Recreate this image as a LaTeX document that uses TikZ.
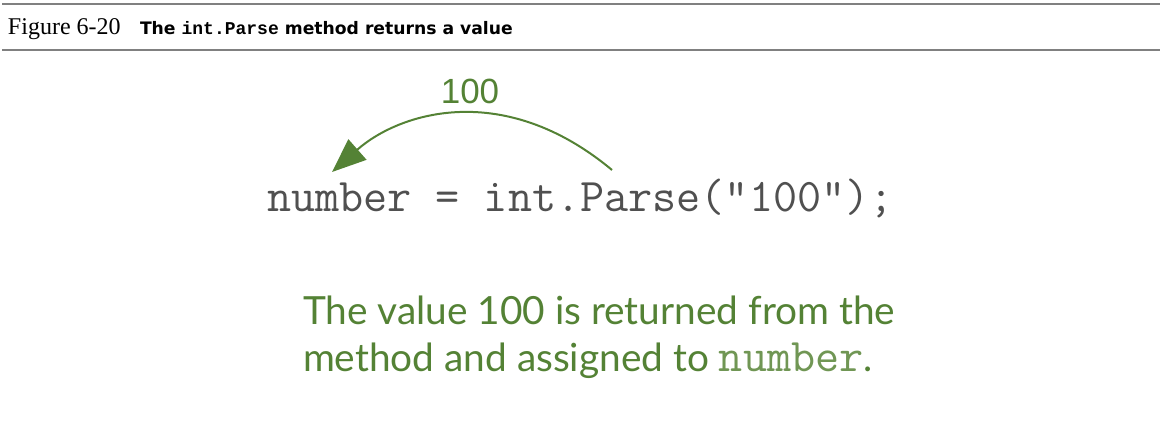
\documentclass[tikz,border=0pt]{standalone}
\usepackage{fontspec}
\usetikzlibrary{positioning,arrows.meta}
\setmainfont{Lato}
\newfontfamily\titleMono{Liberation Mono}
\newfontfamily\captionSerif{Liberation Serif}
\newfontfamily\captionSans{DejaVu Sans}
\newfontfamily\labelFont{Liberation Sans}
\definecolor{ruleColor}{RGB}{128,128,128}
\definecolor{codeColor}{RGB}{80,80,80}
\definecolor{noteGreen}{RGB}{84,130,53}
\definecolor{noteLight}{RGB}{112,150,84}
\tikzstyle{figure} = [x = 1pt, y = -1pt]
\tikzstyle{ruleLine} = [color=ruleColor, line width=2pt]
\tikzstyle{plainText} = [inner sep=0pt, outer sep=0pt, anchor=base west]
\tikzstyle{codeText} = [plainText, color=codeColor, font=\ttfamily\fontsize{46.8}{52}\selectfont]
\tikzstyle{noteText} = [plainText, color=noteGreen, font=\fontsize{38.8}{47}\selectfont]
\tikzstyle{returnArrow} = [color=noteGreen, line width=2pt, -{Triangle[length=34pt, width=27pt]}]
\newcommand{\inlineCode}[1]{{\ttfamily\fontsize{46.8}{52}\selectfont\color{noteLight}#1}}

\begin{document}
\begin{tikzpicture}[figure]
  \useasboundingbox (0,0) rectangle (1176,430);
  % caption
  \draw [ruleLine] (2,4) -- (1160,4);
  \draw [ruleLine] (2,50) -- (1160,50);
  \node [plainText, font=\captionSerif\fontsize{24}{27}\selectfont] (figNumber) at (8,35) {Figure 6-20};
  \node [plainText, font=\captionSans\bfseries\fontsize{17.2}{19}\selectfont] (figTitle) at (140,35)
    {The {\titleMono\bfseries\fontsize{18}{20}\selectfont int.Parse} method returns a value};

  % statement and returned value
  \node [codeText] (statement) at (267,212) {number = int.Parse("100");};
  \coordinate (parseCall) at (612,170);
  \coordinate (target) at (332,172);
  \draw [returnArrow] (parseCall) .. controls (504,80) and (400,112) .. (target);
  \node [color=noteGreen, font=\labelFont\fontsize{35}{40}\selectfont, inner sep=0pt] (returned) at (470,91) {100};

  % explanation
  \node [noteText] (noteOne) at (303,325) {The value 100 is returned from the};
  \node [noteText] (noteTwo) at (303,372) {method and assigned to \inlineCode{number}.};
\end{tikzpicture}
\end{document}
